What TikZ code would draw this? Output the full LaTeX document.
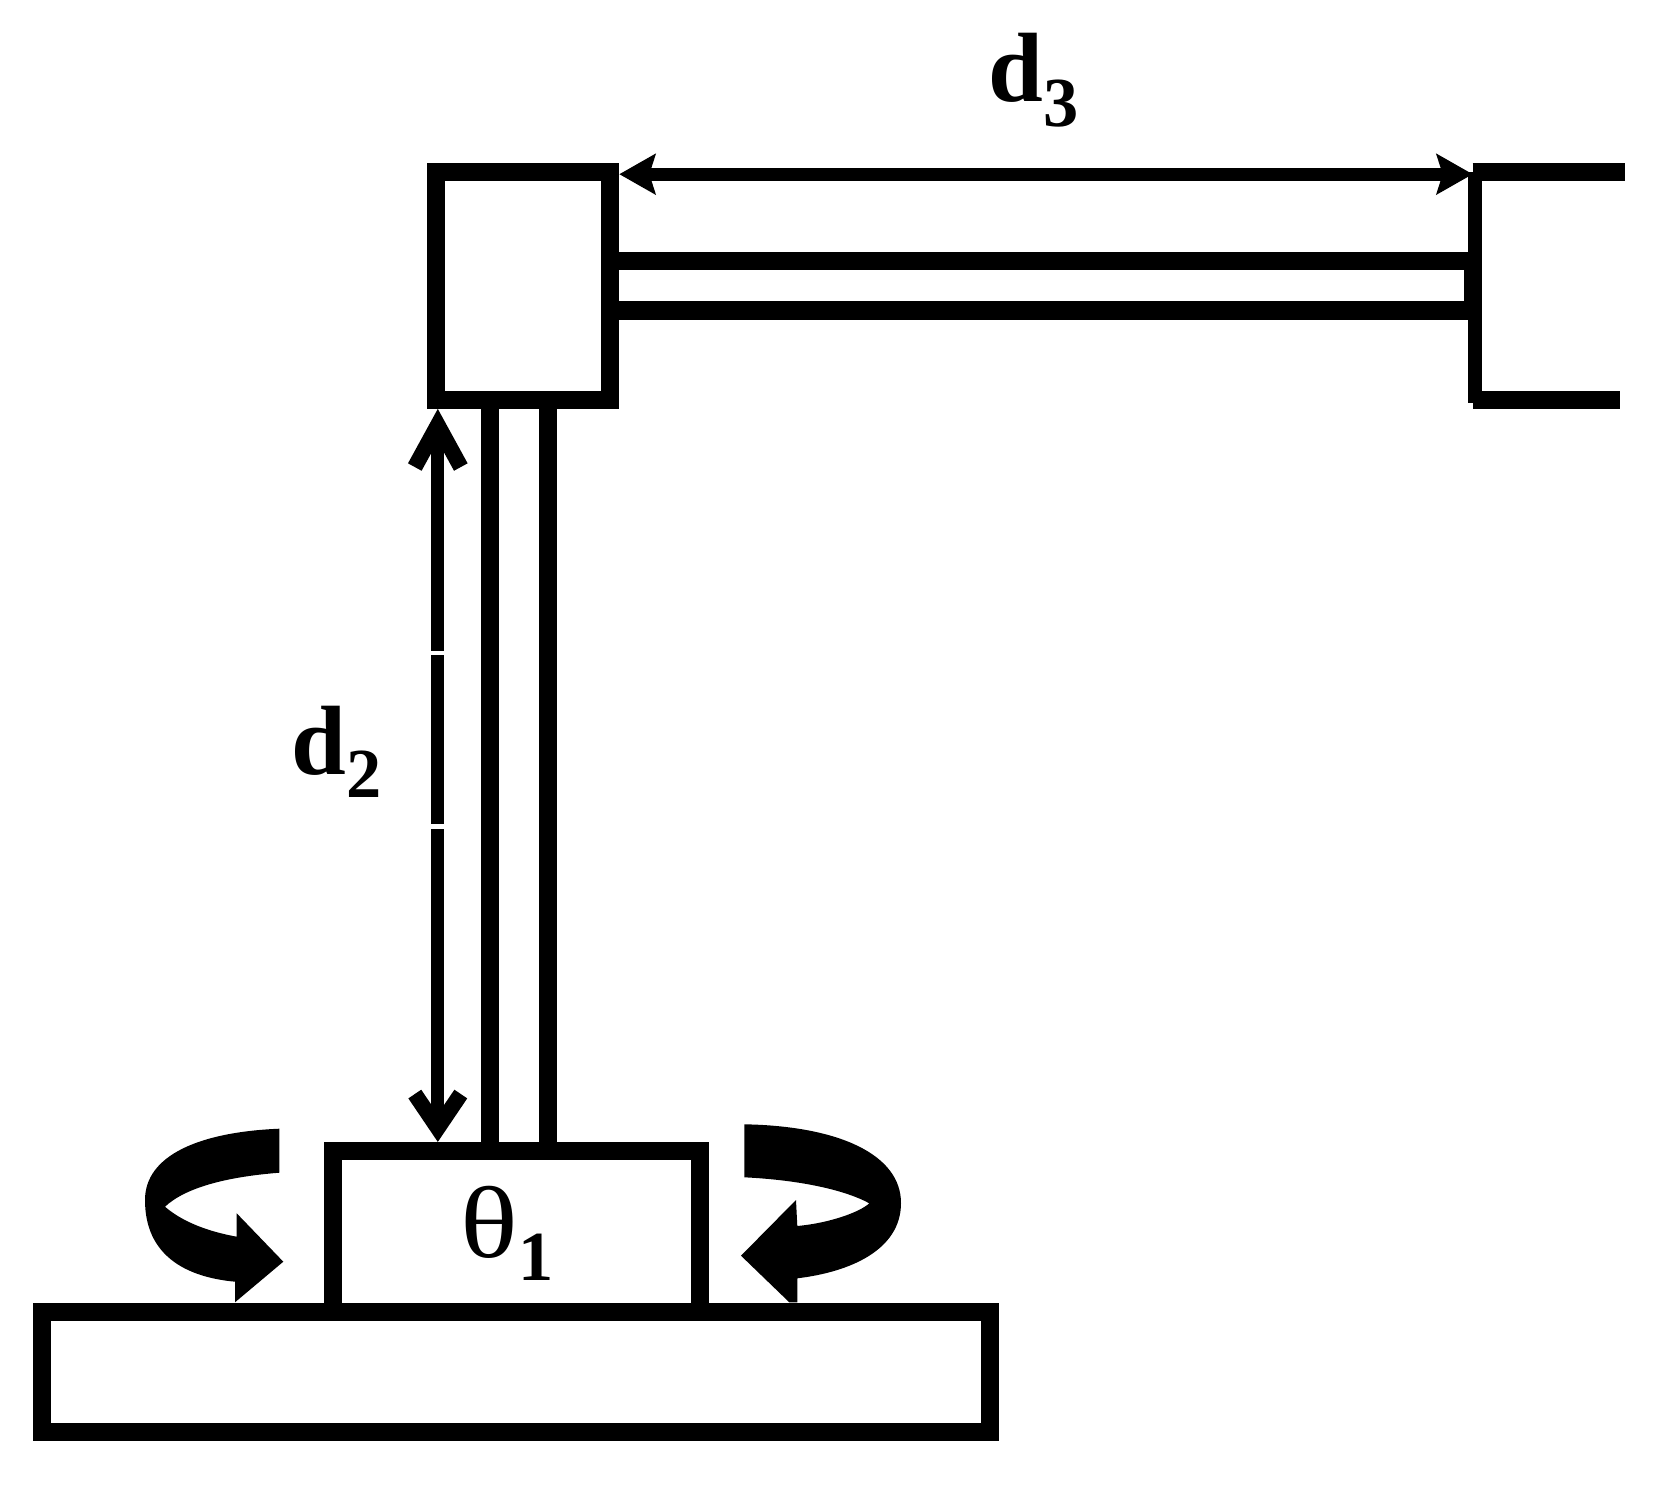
\documentclass[tikz,border=0pt]{standalone}
\usepackage{fontspec}
\setmainfont{Liberation Serif}
\usetikzlibrary{arrows.meta, positioning}

\tikzset{
  linkbox/.style = {draw, line width=1.8mm, rectangle, inner sep=0pt, outer sep=0pt},
  rod/.style = {line width=1.8mm},
  span/.style = {line width=1.33mm},
  turn/.style = {fill=black, draw=none},
  dimlabel/.style = {font=\fontsize{28}{28}\selectfont\bfseries, inner sep=0pt, anchor=base west},
  upbarb/.tip = {Straight Barb[length=4.2mm, width=4.6mm, line width=1.55mm]},
  downbarb/.tip = {Straight Barb[length=3.4mm, width=4.6mm, line width=1.55mm]},
  flathead/.tip = {Stealth[length=3.6mm, width=4mm, inset=0.6mm]},
}
\newcommand{\lowdigit}[2]{\raisebox{#1}{\fontsize{20}{20}\selectfont\bfseries #2}}

\begin{document}
\begin{tikzpicture}[x=0.01cm, y=-0.01cm]
  \useasboundingbox (0,0) rectangle (1669,1485);

  \node[linkbox, minimum width=9.477cm, minimum height=1.206cm] (base) at (516.2,1372) {};
  \node[linkbox, minimum width=3.663cm, minimum height=1.607cm] (joint) at (516.3,1231.3) {};
  \node[linkbox, minimum width=1.745cm, minimum height=2.276cm] (slider) at (523,286) {};

  % column
  \coordinate (colA) at (489.7,0);
  \coordinate (colB) at (547.7,0);
  \draw[rod] (slider.south -| colA) -- (joint.north -| colA);
  \draw[rod] (slider.south -| colB) -- (joint.north -| colB);

  % gripper
  \coordinate (gripTop) at (1475,172.2);
  \coordinate (gripLow) at (1475,403);
  \coordinate (jawTop) at (1625,172.2);
  \coordinate (jawLow) at (1620,400);
  \coordinate (jawTopIn) at (1472.7,172.2);
  \coordinate (jawLowIn) at (1472.7,400);
  \draw[span] (gripTop) -- (gripLow);
  \draw[rod] (jawTopIn) -- (jawTop);
  \draw[rod] (jawLowIn) -- (jawLow);

  % arm
  \coordinate (armA) at (1475,261.2);
  \coordinate (armB) at (1475,310.5);
  \draw[rod] (slider.east |- armA) -- (armA);
  \draw[rod] (slider.east |- armB) -- (armB);
  \draw[line width=1.7mm] (1472.5,261.2) -- (1472.5,310.5);

  % travel arrows
  \coordinate (reachA) at (437.8,0);
  \coordinate (reachB) at (0,174.2);
  \coordinate (cutA) at (0,650.7);
  \coordinate (cutB) at (0,655);
  \coordinate (cutC) at (0,824.3);
  \coordinate (cutD) at (0,829);
  \draw[span, upbarb-] ([yshift=-0.9mm]slider.south -| reachA) -- (reachA |- cutA);
  \draw[span] (reachA |- cutB) -- (reachA |- cutC);
  \draw[span, -downbarb] (reachA |- cutD) -- ([yshift=0.9mm]joint.north -| reachA);
  \draw[span, flathead-flathead] ([xshift=0.9mm]slider.east |- reachB) -- (jawTopIn |- reachB);

  % rotation arrows
  \fill[turn] (279.3,1128.7) .. controls (200,1132) and (145,1155) .. (145,1200)
    .. controls (145,1255) and (185,1277) .. (235,1281.7) -- (235,1302.3) -- (283.3,1261.7)
    -- (236.7,1213.3) -- (236.7,1236.7) .. controls (200,1230) and (178,1218) .. (165,1206.7)
    .. controls (185,1188) and (225,1177) .. (279.3,1172.7) -- cycle;
  \fill[turn] (744.3,1124.3) .. controls (840,1126) and (901,1155) .. (901,1203)
    .. controls (901,1250) and (850,1272) .. (797.3,1278.3) -- (797.3,1302.3) -- (789.3,1302.3)
    -- (741,1255.7) -- (796,1200) -- (797.3,1226) .. controls (830,1223) and (860,1212) .. (869.3,1203.3)
    .. controls (845,1190) and (800,1180) .. (744.3,1177.3) -- cycle;

  % labels
  \node[dimlabel] (dthree) at (988,102) {d\lowdigit{-0.24cm}{3}};
  \node[dimlabel] (dtwo) at (291,774) {d\lowdigit{-0.23cm}{2}};
  \node[font=\fontsize{29}{29}\selectfont, inner sep=0pt, anchor=base west] (thetaone) at (460,1257)
    {\scalebox{1.18}[1]{θ}\lowdigit{-0.23cm}{1}};
\end{tikzpicture}
\end{document}
